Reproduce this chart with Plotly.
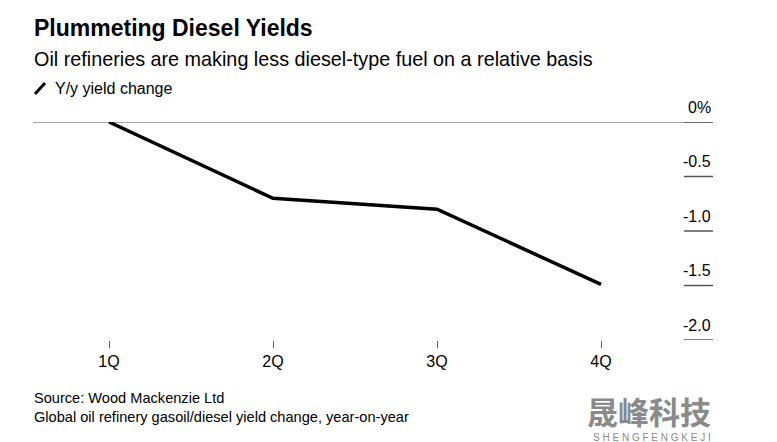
import plotly.graph_objects as go

# ---- data ----
quarters = ["1Q", "2Q", "3Q", "4Q"]
yield_change = [0.0, -0.70, -0.80, -1.49]
y_tick_values = [0, -0.5, -1.0, -1.5, -2.0]
y_tick_labels = ["0%", "-0.5", "-1.0", "-1.5", "-2.0"]

OFF = 8                 # page body margin offset
W, H = 777 - OFF, 442 - OFF
PX0, PX1 = 33 - OFF, 713 - OFF      # plot area left/right in figure px
PY0, PY1 = 122 - OFF, 340 - OFF     # plot area top/bottom in figure px

def px_x(px):
    """reference-image px -> paper x"""
    return (px - OFF - PX0) / (PX1 - PX0)

def px_y(py):
    """reference-image px -> paper y"""
    return (PY1 - (py - OFF)) / (PY1 - PY0)

FONT = "Liberation Sans, Arial, sans-serif"

fig = go.Figure()
fig.add_trace(go.Scatter(
    x=quarters, y=yield_change, mode="lines",
    line=dict(color="#000000", width=3.5),
    cliponaxis=False, showlegend=False, hoverinfo="skip",
))

shapes = []
annotations = []

# zero line across the plot
shapes.append(dict(type="line", xref="paper", yref="y", x0=0, x1=1,
                   y0=0, y1=0, line=dict(color="#8c8c8c", width=1.5), layer="below"))
# short right-side tick lines under each label
for v, lab in zip(y_tick_values, y_tick_labels):
    shapes.append(dict(type="line", xref="paper", yref="y", x0=px_x(684), x1=1,
                       y0=v, y1=v, line=dict(color="#555555", width=1.5), layer="below"))
    annotations.append(dict(text=lab, xref="paper", yref="y", x=1, y=v,
                            xanchor="right", yanchor="middle", yshift=15,
                            showarrow=False, font=dict(family=FONT, size=16, color="#000000")))

# titles
annotations.append(dict(text="<b>Plummeting Diesel Yields</b>", xref="paper", yref="paper",
                        x=px_x(32), y=px_y(28), xanchor="left", yanchor="middle",
                        showarrow=False, font=dict(family=FONT, size=23, color="#000000")))
annotations.append(dict(text="Oil refineries are making less diesel-type fuel on a relative basis",
                        xref="paper", yref="paper", x=px_x(32), y=px_y(59),
                        xanchor="left", yanchor="middle", showarrow=False,
                        font=dict(family=FONT, size=19.8, color="#000000")))
# legend
shapes.append(dict(type="line", xref="paper", yref="paper",
                   x0=px_x(35), y0=px_y(94), x1=px_x(45), y1=px_y(83),
                   line=dict(color="#000000", width=3)))
annotations.append(dict(text="Y/y yield change", xref="paper", yref="paper",
                        x=px_x(53), y=px_y(88), xanchor="left", yanchor="middle",
                        showarrow=False, font=dict(family=FONT, size=16, color="#000000")))
# footnotes
annotations.append(dict(text="Source: Wood Mackenzie Ltd<br>Global oil refinery gasoil/diesel yield change, year-on-year",
                        xref="paper", yref="paper", x=px_x(32), y=px_y(388),
                        xanchor="left", yanchor="top", align="left", showarrow=False,
                        font=dict(family=FONT, size=14.6, color="#000000")))
# watermark
annotations.append(dict(text="<b>晟峰科技</b>", xref="paper", yref="paper", x=px_x(585), y=px_y(410),
                        xanchor="left", yanchor="middle", showarrow=False,
                        font=dict(family="Noto Sans CJK SC", size=31, color="#8a8a8a")))
annotations.append(dict(text="S H E N G F E N G K E J I", xref="paper", yref="paper",
                        x=px_x(652), y=px_y(437), xanchor="center", yanchor="middle",
                        showarrow=False, font=dict(family=FONT, size=10, color="#8a8a8a")))

fig.update_layout(
    width=W, height=H,
    margin=dict(l=PX0, r=W - PX1, t=PY0, b=H - PY1, pad=0),
    paper_bgcolor="#ffffff", plot_bgcolor="#ffffff",
    showlegend=False,
    xaxis=dict(range=[(33 - 109) / 164, (713 - 109) / 164],
               showgrid=False, zeroline=False, showline=False,
               ticks="outside", ticklen=7, tickwidth=1, tickcolor="#666666",
               tickfont=dict(family=FONT, size=16, color="#000000"), fixedrange=True),
    yaxis=dict(range=[-2.0, 0], showgrid=False, zeroline=False, showline=False,
               showticklabels=False, ticks="", fixedrange=True),
    shapes=shapes, annotations=annotations,
)

fig.write_html("out.html")
